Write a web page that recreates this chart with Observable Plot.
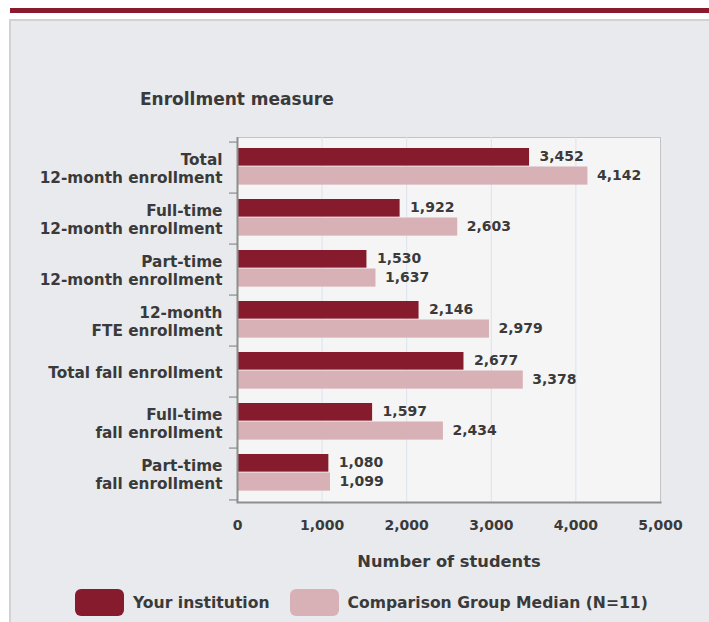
<!DOCTYPE html>
<html>
<head>
<meta charset="utf-8">
<script src="https://cdn.jsdelivr.net/npm/d3@7"></script>
<script src="https://cdn.jsdelivr.net/npm/@observablehq/plot@0.6"></script>
<style>
  html, body { margin: 0; padding: 0; background: #ffffff; width: 709px; height: 622px; overflow: hidden; }
  body { position: relative; font-family: "DejaVu Sans", sans-serif; font-weight: bold; color: #3a3a3a; }
  #band { position: absolute; left: 10px; top: 8px; width: 699px; height: 5px; background: #8a1b2f; }
  #panel { position: absolute; left: 9px; top: 19px; right: 0; bottom: 0; background: #e9eaee; border-top: 2px solid #d2d2d4; border-left: 2px solid #d2d2d4; }
  #chart { position: absolute; left: 0; top: 0; }
  #ytitle { position: absolute; left: 140px; top: 89px; font-size: 17px; line-height: 20px; white-space: nowrap; }
  #legend { position: absolute; left: 75px; top: 589px; display: flex; align-items: center; font-size: 15.6px; white-space: nowrap; }
  .sw { width: 49px; height: 27px; border-radius: 6px; display: inline-block; }
  .lab { margin-left: 9px; margin-right: 20px; }
</style>
</head>
<body>
<div id="band"></div>
<div id="panel"></div>
<div id="chart"></div>
<div id="ytitle">Enrollment measure</div>
<div id="legend"></div>
<script>
const categories = [
  "Total\n12-month enrollment",
  "Full-time\n12-month enrollment",
  "Part-time\n12-month enrollment",
  "12-month\nFTE enrollment",
  "Total fall enrollment",
  "Full-time\nfall enrollment",
  "Part-time\nfall enrollment"
];
const institution = [3452, 1922, 1530, 2146, 2677, 1597, 1080];
const comparison = [4142, 2603, 1637, 2979, 3378, 2434, 1099];
const seriesNames = ["Your institution", "Comparison Group Median (N=11)"];
const seriesColors = ["#861b2d", "#d8b1b7"];
const xTicks = [0, 1000, 2000, 3000, 4000, 5000];
const xLabel = "Number of students";

const instRows = categories.map((c, i) => ({category: c, value: institution[i]}));
const compRows = categories.map((c, i) => ({category: c, value: comparison[i]}));

const fmt = d3.format(",");
const H = 580, MT = 137, MB = 78, INSET = 2;
const bw = (H - MT - MB - INSET) / categories.length;

const chart = Plot.plot({
  width: 709,
  height: H,
  marginLeft: 237,
  marginRight: 49,
  marginTop: MT,
  marginBottom: MB,
  style: {background: "transparent", fontFamily: "DejaVu Sans", fontWeight: "bold", color: "#3a3a3a", fontSize: "14px", overflow: "visible"},
  x: {domain: [0, 5000]},
  y: {domain: categories, padding: 0, insetTop: INSET},
  marks: [
    Plot.frame({fill: "#f5f5f5", stroke: "#c4c4c6"}),
    Plot.ruleX(xTicks.slice(1, -1), {stroke: "#dce2ef", strokeWidth: 1}),
    Plot.barX(instRows, {y: "category", x: "value", fill: seriesColors[0], insetTop: 6, insetBottom: bw - 24.5}),
    Plot.barX(compRows, {y: "category", x: "value", fill: seriesColors[1], insetTop: 24.5, insetBottom: bw - 43.5}),
    Plot.text(instRows, {y: "category", x: "value", text: d => fmt(d.value), dx: 10, dy: -11, textAnchor: "start", fontSize: 14, fill: "#3a3a3a"}),
    Plot.text(compRows, {y: "category", x: "value", text: d => fmt(d.value), dx: 9, dy: 8, textAnchor: "start", fontSize: 14, fill: "#3a3a3a"}),
    Plot.text(categories, {y: d => d, frameAnchor: "left", dx: -15, textAnchor: "end", lineHeight: 1.17, fontSize: 15.3, fill: "#3a3a3a"}),
    Plot.ruleX([0], {stroke: "#8e8e8e", strokeWidth: 2}),
    Plot.axisY({tickSize: 8, tickFormat: () => "", dy: -bw / 2, stroke: "#7a7a7a", label: null}),
    Plot.axisY([categories[categories.length - 1]], {tickSize: 8, tickFormat: () => "", dy: bw / 2, stroke: "#7a7a7a", label: null}),
    Plot.frame({anchor: "bottom", stroke: "#8e8e8e", strokeWidth: 2}),
    Plot.axisX({ticks: xTicks, tickSize: 0, tickPadding: 18, tickFormat: fmt, fontSize: 14, fill: "#3a3a3a", label: null}),
    Plot.text([xLabel], {frameAnchor: "bottom", dy: 64, fontSize: 16.3, fill: "#3a3a3a"})
  ]
});
document.getElementById("chart").appendChild(chart);

const legend = document.getElementById("legend");
seriesNames.forEach((name, i) => {
  const sw = document.createElement("span");
  sw.className = "sw";
  sw.style.background = seriesColors[i];
  const lab = document.createElement("span");
  lab.className = "lab";
  lab.textContent = name;
  legend.appendChild(sw);
  legend.appendChild(lab);
});
</script>
</body>
</html>
